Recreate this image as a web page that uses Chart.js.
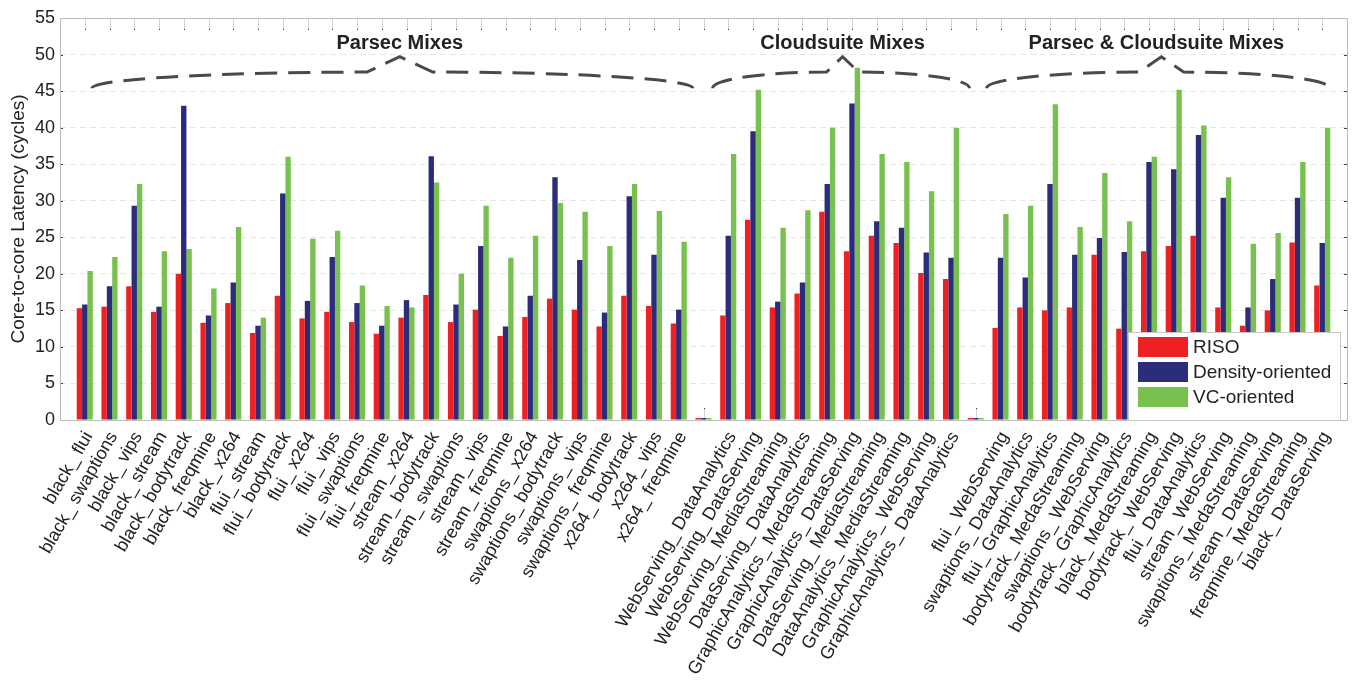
<!DOCTYPE html>
<html>
<head>
<meta charset="utf-8">
<script src="https://cdn.jsdelivr.net/npm/chart.js"></script>
<style>
  body { margin: 0; background: #fff; }
  #wrap { width: 1356px; height: 681px; }
</style>
</head>
<body>
<div id="wrap"><canvas id="latencyChart"></canvas></div>
<script>
// workload mixes, '' marks the spacer slot between groups
const mixes = [
  'black_ flui', 'black_ swaptions', 'black_ vips', 'black_ stream', 'black_ bodytrack',
  'black_ freqmine', 'black_ x264', 'flui_ stream', 'flui_ bodytrack', 'flui_ x264',
  'flui_ vips', 'flui_ swaptions', 'flui_ freqmine', 'stream_ x264', 'stream_ bodytrack',
  'stream_ swaptions', 'stream_ vips', 'stream_ freqmine', 'swaptions_ x264', 'swaptions_ bodytrack',
  'swaptions_ vips', 'swaptions_ freqmine', 'x264_ bodytrack', 'x264_ vips', 'x264_ freqmine',
  '',
  'WebServing_ DataAnalytics', 'WebServing_ DataServing', 'WebServing_ MediaStreaming',
  'DataServing_ DataAnalytics', 'GraphicAnalytics_ MedaStreaming', 'GraphicAnalytics_ DataServing',
  'DataServing_ MediaStreaming', 'DataAnalytics_ MediaStreaming', 'GraphicAnalytics_ WebServing',
  'GraphicAnalytics_ DataAnalytics',
  '',
  'flui_ WebServing', 'swaptions_ DataAnalytics', 'flui_ GraphicAnalytics', 'bodytrack_ MedaStreaming',
  'swaptions_ WebServing', 'bodytrack_ GraphicAnalytics', 'black_ MedaStreaming', 'bodytrack_ WebServing',
  'flui_ DataAnalytics', 'stream_ WebServing', 'swaptions_ MedaStreaming', 'stream_ DataServing',
  'freqmine_ MedaStreaming', 'black_ DataServing'
];

const riso = [
  15.3, 15.5, 18.3, 14.8, 20.0, 13.3, 16.0, 11.9, 17.0, 13.9,
  14.8, 13.4, 11.8, 14.0, 17.1, 13.4, 15.1, 11.5, 14.1, 16.6,
  15.1, 12.8, 17.0, 15.6, 13.2,
  0,
  14.3, 27.4, 15.4, 17.3, 28.5, 23.1, 25.2, 24.2, 20.1, 19.3,
  0,
  12.6, 15.4, 15.0, 15.4, 22.6, 12.5, 23.1, 23.8, 25.2, 15.4,
  12.9, 15.0, 24.3, 18.4
];

const density = [
  15.8, 18.3, 29.3, 15.5, 43.0, 14.3, 18.8, 12.9, 31.0, 16.3,
  22.3, 16.0, 12.9, 16.4, 36.1, 15.8, 23.8, 12.8, 17.0, 33.2,
  21.9, 14.7, 30.6, 22.6, 15.1,
  0,
  25.2, 39.5, 16.2, 18.8, 32.3, 43.3, 27.2, 26.3, 22.9, 22.2,
  0,
  22.2, 19.5, 32.3, 22.6, 24.9, 23.0, 35.3, 34.3, 39.0, 30.4,
  15.4, 19.3, 30.4, 24.2
];

const vcOriented = [
  20.4, 22.3, 32.3, 23.1, 23.4, 18.0, 26.4, 14.0, 36.0, 24.8,
  25.9, 18.4, 15.6, 15.4, 32.5, 20.0, 29.3, 22.2, 25.2, 29.7,
  28.5, 23.8, 32.3, 28.6, 24.4,
  0,
  36.4, 45.2, 26.3, 28.7, 40.0, 48.2, 36.4, 35.3, 31.3, 40.0,
  0,
  28.2, 29.3, 43.2, 26.4, 33.8, 27.2, 36.0, 45.2, 40.3, 33.2,
  24.1, 25.6, 35.3, 40.0
];

const groupNames = ['Parsec Mixes', 'Cloudsuite Mixes', 'Parsec & Cloudsuite Mixes'];
const seriesNames = ['RISO', 'Density-oriented', 'VC-oriented'];

// brace geometry, in category units (slot 0 and 52 are empty margins)
const braces = [
  { from: 1.29, to: 25.57, peak: 13.73, half: 1.33, textAt: 13.73 },
  { from: 26.37, to: 36.75, peak: 31.62, half: 0.65, textAt: 31.62 },
  { from: 37.44, to: 51.3, peak: 44.5, half: 0.9, textAt: 44.3 }
];

const FONT = '"Liberation Sans", Arial, Helvetica, sans-serif';
const pad = arr => [null, ...arr, null];

// frame around the plot plus MATLAB-like tick marks
const frameLayer = {
  id: 'frameLayer',
  beforeDatasetsDraw(chart) {
    const { ctx, chartArea: a, scales: { x, y } } = chart;
    ctx.save();
    ctx.lineWidth = 1;
    for (let i = 1; i <= mixes.length; i++) {
      const px = Math.round(x.getPixelForValue(i)) + 0.5;
      ctx.strokeStyle = '#d4d4d4';
      ctx.beginPath();
      ctx.moveTo(px, a.top); ctx.lineTo(px, a.top + 11);
      ctx.moveTo(px, a.bottom); ctx.lineTo(px, a.bottom - 11);
      ctx.stroke();
      ctx.fillStyle = '#333';
      ctx.fillRect(px - 0.5, a.top + 11, 1, 1);
      ctx.fillRect(px - 0.5, a.bottom - 12, 1, 1);
    }
    ctx.strokeStyle = '#444';
    for (let v = 5; v < 55; v += 5) {
      const py = Math.round(y.getPixelForValue(v)) + 0.5;
      ctx.beginPath();
      ctx.moveTo(a.left, py); ctx.lineTo(a.left + 3, py);
      ctx.moveTo(a.right, py); ctx.lineTo(a.right - 3, py);
      ctx.stroke();
    }
    ctx.strokeStyle = '#bcbcbc';
    ctx.strokeRect(Math.round(a.left) + 0.5, Math.round(a.top) + 0.5,
      Math.round(a.right - a.left), Math.round(a.bottom - a.top));
    ctx.restore();
  }
};

// dashed curly braces with the group titles
const braceLayer = {
  id: 'braceLayer',
  afterDatasetsDraw(chart) {
    const { ctx, scales: { x, y } } = chart;
    const unit = x.getPixelForValue(1) - x.getPixelForValue(0);
    const yEnd = y.getPixelForValue(45.4);
    const yFlat = y.getPixelForValue(47.6);
    const yPeak = y.getPixelForValue(49.7);
    ctx.save();
    ctx.strokeStyle = '#4a4a4a';
    ctx.lineWidth = 3;
    ctx.setLineDash([22, 11]);
    braces.forEach(b => {
      const x0 = x.getPixelForValue(b.from);
      const x1 = x.getPixelForValue(b.to);
      const xc = x.getPixelForValue(b.peak);
      const xl = xc - b.half * unit;
      const xr = xc + b.half * unit;
      const ry = yEnd - yFlat;
      ctx.beginPath();
      ctx.ellipse(xl, yEnd, xl - x0, ry, 0, Math.PI, 1.5 * Math.PI);
      ctx.lineTo(xc, yPeak);
      ctx.lineTo(xr, yFlat);
      ctx.ellipse(xr, yEnd, x1 - xr, ry, 0, 1.5 * Math.PI, 2 * Math.PI);
      ctx.stroke();
    });
    ctx.setLineDash([]);
    ctx.fillStyle = '#222';
    ctx.font = 'bold 20px ' + FONT;
    ctx.textAlign = 'center';
    ctx.textBaseline = 'middle';
    braces.forEach((b, i) => {
      ctx.fillText(groupNames[i], x.getPixelForValue(b.textAt), y.getPixelForValue(51.5));
    });
    ctx.restore();
  }
};

// boxed legend inside the lower right corner
const legendBox = {
  id: 'legendBox',
  afterDraw(chart) {
    const { ctx, chartArea: a } = chart;
    const w = 212, h = 88;
    const left = Math.round(a.right - 7 - w), top = Math.round(a.bottom - h);
    ctx.save();
    ctx.fillStyle = '#fff';
    ctx.fillRect(left, top, w, h);
    ctx.strokeStyle = '#c8c8c8';
    ctx.lineWidth = 1;
    ctx.strokeRect(left + 0.5, top + 0.5, w, h);
    ctx.font = '19px ' + FONT;
    ctx.textBaseline = 'middle';
    chart.data.datasets.forEach((ds, i) => {
      const cy = top + 15 + i * 25;
      ctx.fillStyle = ds.backgroundColor;
      ctx.fillRect(left + 10, cy - 10, 50, 20);
      ctx.fillStyle = '#222';
      ctx.fillText(ds.label, left + 65, cy + 1);
    });
    ctx.restore();
  }
};

new Chart(document.getElementById('latencyChart'), {
  type: 'bar',
  data: {
    labels: pad(mixes).map(l => l === null ? '' : l),
    datasets: [
      { label: seriesNames[0], data: pad(riso), backgroundColor: '#ED2024' },
      { label: seriesNames[1], data: pad(density), backgroundColor: '#2B2C7A' },
      { label: seriesNames[2], data: pad(vcOriented), backgroundColor: '#79C14F' }
    ]
  },
  options: {
    responsive: true,
    maintainAspectRatio: false,
    animation: false,
    categoryPercentage: 0.65,
    barPercentage: 1.0,
    minBarLength: 2,
    layout: { padding: { top: 18, right: 9, left: 0, bottom: 0 } },
    plugins: {
      legend: { display: false },
      tooltip: { enabled: false }
    },
    scales: {
      x: {
        offset: false,
        grid: { display: false },
        border: { display: false },
        ticks: {
          autoSkip: false,
          maxRotation: 60,
          minRotation: 60,
          padding: 0,
          labelOffset: 4,
          color: '#222',
          font: { family: FONT, size: 18 }
        },
        afterFit(scale) {
          scale.height = 261;
          // rotated labels must not shrink the plot width
          scale.paddingLeft = 0;
          scale.paddingRight = 0;
        }
      },
      y: {
        min: 0,
        max: 55,
        ticks: {
          stepSize: 5,
          padding: 5,
          color: '#222',
          font: { family: FONT, size: 18 }
        },
        grid: { color: '#e6e6e6', drawTicks: false },
        border: { display: false, dash: [6, 4] },
        title: {
          display: true,
          text: 'Core-to-core Latency (cycles)',
          color: '#222',
          font: { family: FONT, size: 19 },
          padding: { top: 7, bottom: 0 }
        },
        afterFit(scale) { scale.width = 60; }
      }
    }
  },
  plugins: [frameLayer, braceLayer, legendBox]
});
</script>
</body>
</html>
